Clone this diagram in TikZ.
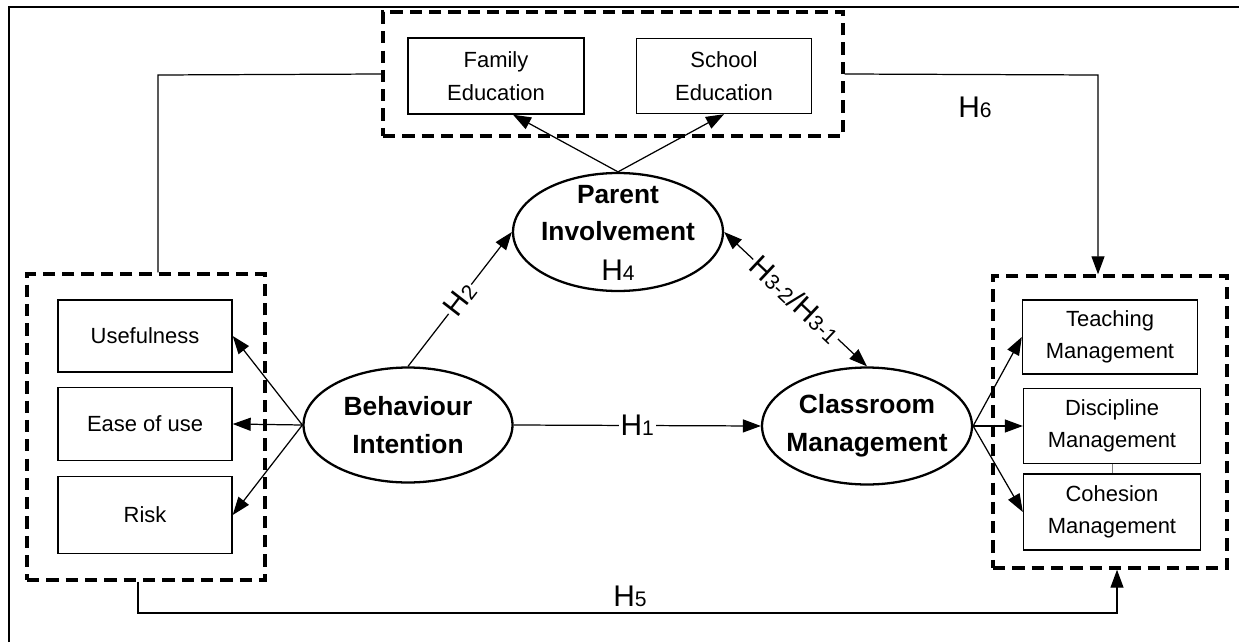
\documentclass[tikz,border=0pt]{standalone}
\usepackage{fontspec}
\setmainfont{Liberation Sans}
\usepackage{tikz}
\usetikzlibrary{arrows.meta,shapes.geometric}
\newcommand{\hyp}[1]{H{\fontsize{12}{12}\selectfont #1}}

\begin{document}
\begin{tikzpicture}[x=0.02cm, y=-0.02cm,
    every node/.style={font=\fontsize{12.5}{18.5}\selectfont},
    box/.style={draw, line width=0.8pt, inner sep=0pt, align=center},
    grp/.style={draw, line width=2pt, dash pattern=on 7pt off 4pt, inner sep=0pt},
    ell/.style={draw, ellipse, line width=1.3pt, inner sep=0pt},
    eltext/.style={font=\fontsize{15}{21.5}\selectfont\bfseries, align=center, inner sep=0pt},
    hlab/.style={font=\fontsize{17}{17}\selectfont, inner sep=1pt},
    conn/.style={line width=0.7pt},
    tip/.tip={Triangle[length=0.36cm, width=0.26cm]},
    arr/.style={line width=0.7pt, -tip}]
        \useasboundingbox (0,0) rectangle (1239,642);
        \draw[line width=1.7pt] (9,642) -- (9,7) -- (1239,7);
        % groups
        \node[grp, minimum width=9.2cm, minimum height=2.48cm] (grpTop) at (613,74) {};
        \node[grp, minimum width=4.76cm, minimum height=6.12cm] (grpLeft) at (146,427) {};
        \node[grp, minimum width=4.68cm, minimum height=5.84cm] (grpRight) at (1110,422) {};
        % boxes
        \node[box, minimum width=3.52cm, minimum height=1.52cm] (fam) at (496,76) {Family\\Education};
        \node[box, minimum width=3.5cm, minimum height=1.5cm] (sch) at (724,76) {School\\Education};
        \node[box, minimum width=3.48cm, minimum height=1.44cm] (use) at (145,336) {Usefulness};
        \node[box, minimum width=3.48cm, minimum height=1.46cm] (ease) at (145,424) {Ease of use};
        \node[box, minimum width=3.48cm, minimum height=1.54cm] (risk) at (145,515) {Risk};
        \node[box, minimum width=3.5cm, minimum height=1.48cm] (teach) at (1110,337) {Teaching\\Management};
        \node[box, minimum width=3.54cm, minimum height=1.5cm] (disc) at (1112,426) {Discipline\\Management};
        \node[box, minimum width=3.54cm, minimum height=1.52cm] (coh) at (1112,512) {Cohesion\\Management};
        % constructs
        \node[ell, minimum width=4.2cm, minimum height=2.36cm] (parent) at (618,232) {};
        \node[ell, minimum width=4.18cm, minimum height=2.3cm] (behav) at (408,425) {};
        \node[ell, minimum width=4.2cm, minimum height=2.34cm] (class) at (867,426) {};
        \node[eltext] (parentT) at (618,213) {Parent\\Involvement};
        \node[hlab] (h4) at (618,270) {\hyp{4}};
        \node[eltext] (behavT) at (408,425) {Behaviour\\Intention};
        \node[eltext] (classT) at (867,426) {Classroom\\Management};
        % links
        \coordinate (tl) at (158,75);
        \coordinate (tr) at (1098,75);
        \coordinate (h5l) at (138,613);
        \coordinate (h5r) at (1117,613);
        \draw[conn] (grpLeft.north -| tl) -- (tl) -- (grpTop.west);
        \draw[arr] (grpTop.east) -- (tr) -- (grpRight.north -| tr);
        \node[hlab] (h6) at (975,107) {\hyp{6}};
        \draw[arr] (grpLeft.south -| h5l) -- (h5l) -- (h5r) -- (grpRight.south -| h5r);
        \node[hlab] (h5) at (630,596) {\hyp{5}};
        \draw[arr] (parent.north) -- ([xshift=0.34cm]fam.south);
        \draw[arr] (parent.north) -- (sch.south);
        \draw[arr] (behav.west) -- (use.east);
        \draw[arr] (behav.west) -- (ease.east);
        \draw[arr] (behav.west) -- (risk.east);
        \draw[arr] (behav.north) -- node[hlab, sloped, fill=white] {\hyp{2}} (parent.west);
        \draw[arr] (behav.east) -- node[hlab, fill=white] {\hyp{1}} (class.west);
        \draw[line width=0.7pt, tip-tip] (parent.east) -- node[hlab, sloped, fill=white] {\hyp{3-2}/\hyp{3-1}} (class.north);
        \draw[arr] (class.east) -- (teach.west);
        \draw[arr] (class.east) -- (disc.west);
        \draw[arr] (class.east) -- (coh.west);
        \draw[line width=0.4pt, gray] (disc.south) -- (coh.north);
      \end{tikzpicture}
\end{document}
